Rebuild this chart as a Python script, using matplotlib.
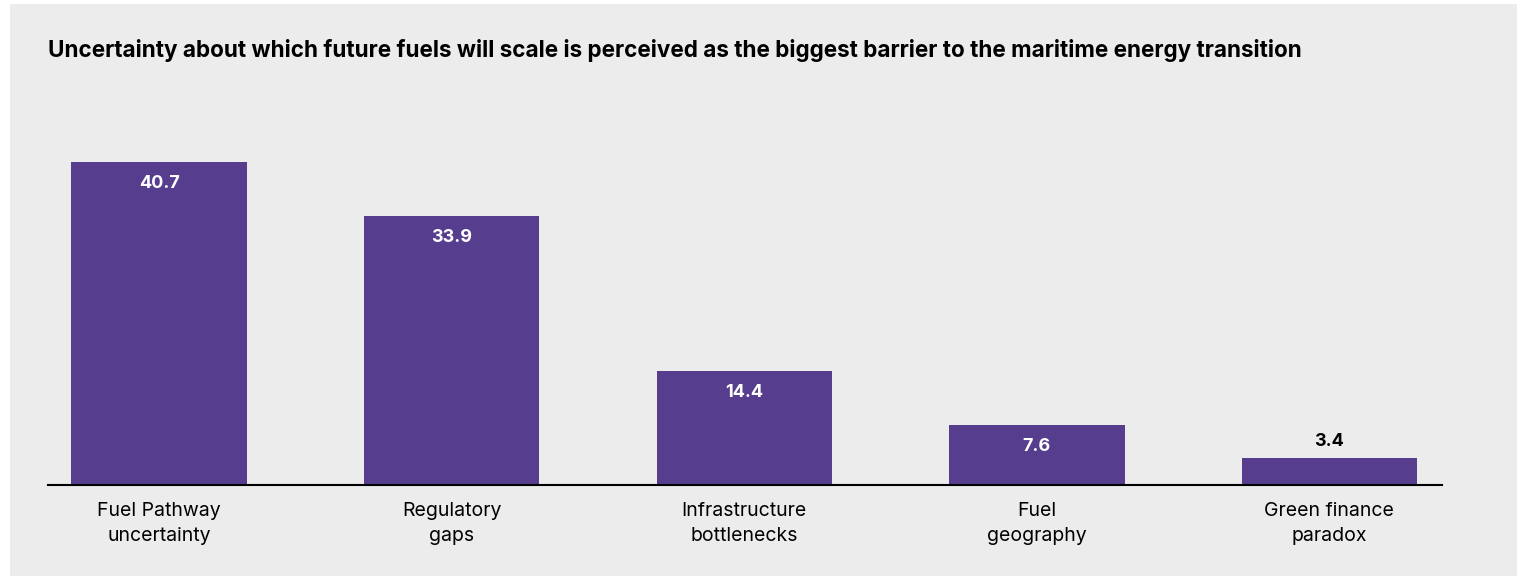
import matplotlib.pyplot as plt
from matplotlib.patches import Rectangle

categories = ['Fuel Pathway\nuncertainty', 'Regulatory\ngaps', 'Infrastructure\nbottlenecks',
              'Fuel\ngeography', 'Green finance\nparadox']
values = [40.7, 33.9, 14.4, 7.6, 3.4]
title = 'Uncertainty about which future fuels will scale is perceived as the biggest barrier to the maritime energy transition'

W, H = 1517, 576
bar_color = '#563d8e'
bg = '#ececec'

plt.rcParams['font.family'] = ['Inter', 'DejaVu Sans']

fig = plt.figure(figsize=(W / 100, H / 100), dpi=100, facecolor='white')
fig.patches.append(Rectangle((10 / W, 0), 1, 1 - 4 / H, transform=fig.transFigure,
                             facecolor=bg, edgecolor='none', zorder=-5))

ax = fig.add_axes([48 / W, 1 - 485 / H, (1442 - 48) / W, (485 - 100) / H])
ax.set_facecolor('none')
x = range(len(values))
ax.bar(x, values, width=0.6, color=bar_color, zorder=2)
ax.set_xlim(-0.38, 4.385)
ax.set_ylim(0, 48.5)

for i, v in enumerate(values):
    if v > 5:
        ax.annotate(f'{v}', (i, v), xytext=(0, -22), textcoords='offset pixels',
                    ha='center', va='center', color='white', fontsize=13, fontweight='bold')
    else:
        ax.annotate(f'{v}', (i, v), xytext=(0, 17), textcoords='offset pixels',
                    ha='center', va='center', color='black', fontsize=13, fontweight='bold')

ax.set_xticks(list(x))
ax.set_xticklabels(categories, fontsize=14, linespacing=1.5)
ax.tick_params(axis='x', length=0, pad=12)
ax.set_yticks([])
for s in ['top', 'left', 'right']:
    ax.spines[s].set_visible(False)
ax.spines['bottom'].set_linewidth(1.5)
ax.spines['bottom'].set_color('black')

fig.text(48 / W, 1 - 50 / H, title, fontsize=16.2, fontweight='bold', va='center', ha='left')

fig.savefig('out.png', dpi=100, facecolor='white')
